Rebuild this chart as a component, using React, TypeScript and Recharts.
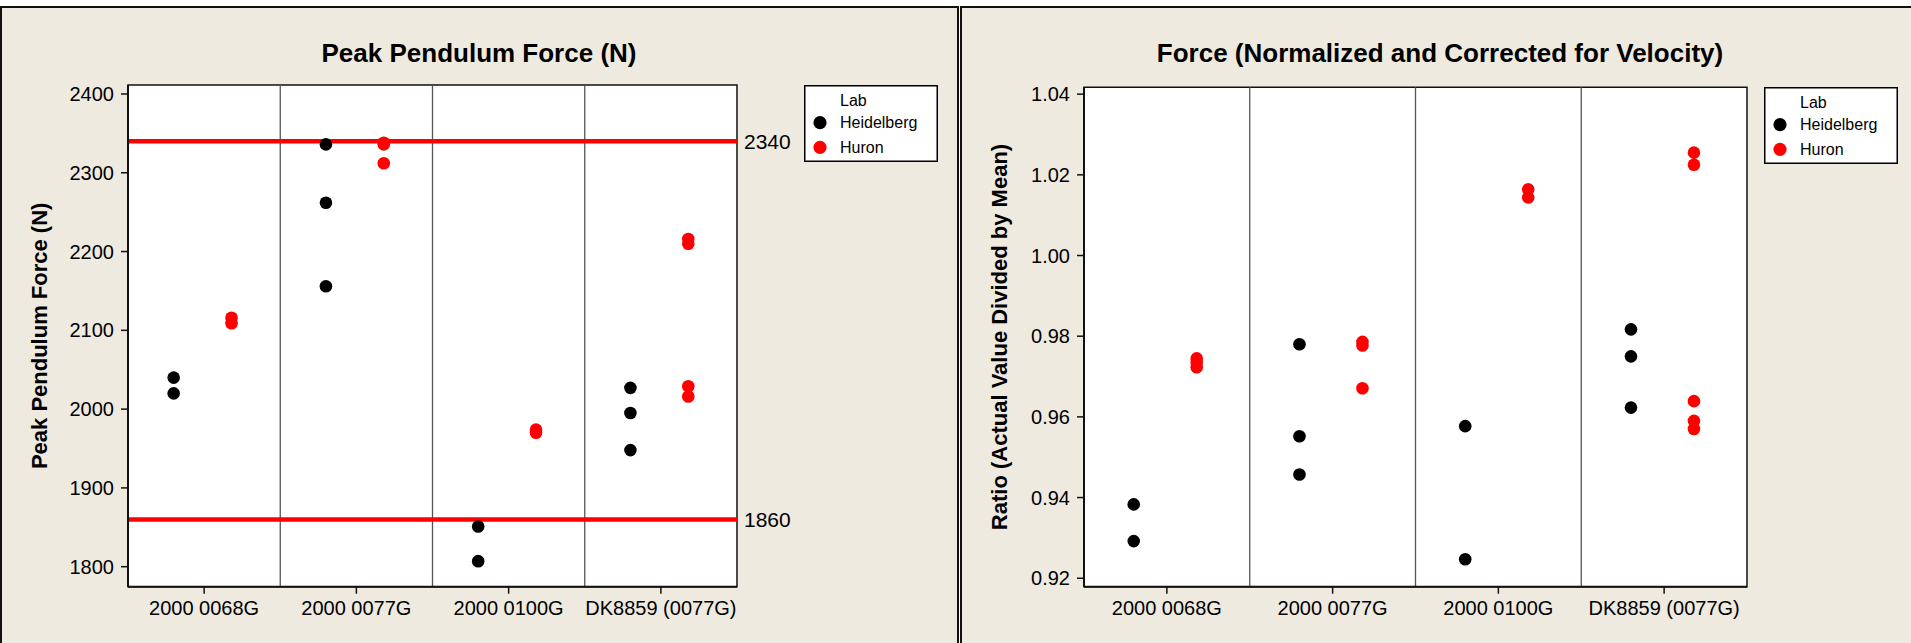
import {
  ReferenceArea,
  ReferenceLine,
  Scatter,
  ScatterChart,
  XAxis,
  YAxis,
} from "recharts";

const FONT = '"Liberation Sans", Arial, sans-serif';
const PANEL_BG = "#eeeae0";
const INK = "#111";

const categories = ["2000 0068G", "2000 0077G", "2000 0100G", "DK8859 (0077G)"];
const categoryTicks = [0, 1, 2, 3];
const dividers = [0.5, 1.5, 2.5];

// peak pendulum force, one list of readings per part
const forceTicks = [1800, 1900, 2000, 2100, 2200, 2300, 2400];
const forceLimits = [1860, 2340];
const forceHeidelberg = [
  [2040, 2020],
  [2336, 2262, 2156],
  [1851, 1807],
  [2027, 1995, 1948],
];
const forceHuron = [
  [2116, 2109],
  [2338, 2336, 2312],
  [1974, 1970],
  [2216, 2210, 2029, 2016],
];

// ratio of actual value to mean, velocity corrected
const ratioTicks = [0.92, 0.94, 0.96, 0.98, 1.0, 1.02, 1.04];
const ratioHeidelberg = [
  [0.9383, 0.9292],
  [0.978, 0.9552, 0.9457],
  [0.9577, 0.9247],
  [0.9817, 0.975, 0.9623],
];
const ratioHuron = [
  [0.9745, 0.9735, 0.9723],
  [0.9786, 0.9777, 0.9671],
  [1.0164, 1.0144],
  [1.0255, 1.0225, 0.9639, 0.959, 0.957],
];

const labs = [
  { name: "Heidelberg", color: "#000000", shift: -0.2 },
  { name: "Huron", color: "#ff0000", shift: 0.18 },
];

function dots(values: number[][], shift: number) {
  return values.flatMap((vals, i) => vals.map((v) => ({ x: i + shift, y: v })));
}

const dotShape = (color: string) => (p: any) =>
  <circle cx={p.cx} cy={p.cy} r={6.3} fill={color} />;

function LabLegend({ left, top }: { left: number; top: number }) {
  return (
    <svg
      width={134}
      height={77}
      style={{ position: "absolute", left, top, fontFamily: FONT }}
    >
      <rect x={0.75} y={0.75} width={132.5} height={75.5} fill="#fff" stroke="#000" strokeWidth={1.5} />
      <text x={36} y={20.7} fontSize={16} fill="#000">Lab</text>
      {labs.map((lab, i) => (
        <g key={lab.name}>
          <circle cx={16} cy={37.7 + i * 24.6} r={6.6} fill={lab.color} />
          <text x={36} y={43.4 + i * 24.6} fontSize={16} fill="#000">{lab.name}</text>
        </g>
      ))}
    </svg>
  );
}

type PanelProps = {
  left: number;
  width: number;
  frameLeft: number;
  frameWidth: number;
  title: string;
  titleCenter: number;
  yLabel: string;
  heidelberg: number[][];
  huron: number[][];
  ticks: number[];
  domain: [number, number];
  format: (v: number) => string;
  limits?: number[];
  margin: { top: number; right: number; bottom: number; left: number };
  yAxisWidth: number;
  labelOffset: number;
  legendLeft: number;
  legendTop: number;
};

function Panel(props: PanelProps) {
  const series = [props.heidelberg, props.huron];
  return (
    <>
      <div
        style={{
          position: "absolute",
          left: props.frameLeft,
          top: 6,
          width: props.frameWidth - 4,
          height: 700,
          background: PANEL_BG,
          border: `2px solid ${INK}`,
        }}
      />
      <div
        style={{
          position: "absolute",
          left: props.titleCenter - 400,
          top: 39.7,
          width: 800,
          textAlign: "center",
          fontFamily: FONT,
          fontWeight: 700,
          fontSize: 26,
          lineHeight: "26px",
          color: "#000",
        }}
      >
        {props.title}
      </div>
      <div style={{ position: "absolute", left: props.left, top: 0 }}>
        <ScatterChart width={props.width} height={643} margin={props.margin}>
          <XAxis
            type="number"
            dataKey="x"
            domain={[-0.5, 3.5]}
            ticks={categoryTicks}
            interval={0}
            allowDataOverflow
            tickFormatter={(v: number) => categories[v]}
            height={40}
            tickSize={7}
            tickMargin={7}
            axisLine={{ stroke: INK, strokeWidth: 2 }}
            tickLine={{ stroke: INK, strokeWidth: 1.5 }}
            tick={{ fill: "#000", fontSize: 20, fontFamily: FONT }}
          />
          <YAxis
            type="number"
            dataKey="y"
            domain={props.domain}
            ticks={props.ticks}
            interval={0}
            allowDataOverflow
            tickFormatter={props.format}
            width={props.yAxisWidth}
            tickSize={7}
            tickMargin={7}
            axisLine={{ stroke: INK, strokeWidth: 2 }}
            tickLine={{ stroke: INK, strokeWidth: 1.5 }}
            tick={{ fill: "#000", fontSize: 20, fontFamily: FONT }}
            label={{
              value: props.yLabel,
              angle: -90,
              position: "insideLeft",
              offset: props.labelOffset,
              fill: "#000",
              fontSize: 22,
              fontWeight: 700,
              fontFamily: FONT,
              style: { textAnchor: "middle" },
            }}
          />
          <ReferenceArea
            x1={-0.5}
            x2={3.5}
            y1={props.domain[0]}
            y2={props.domain[1]}
            fill="#fff"
            fillOpacity={1}
            stroke={INK}
            strokeWidth={1.5}
          />
          {dividers.map((d) => (
            <ReferenceLine key={d} x={d} stroke="#555" strokeWidth={1.3} />
          ))}
          {(props.limits ?? []).map((lim) => (
            <ReferenceLine
              key={lim}
              y={lim}
              stroke="#ff0000"
              strokeWidth={4.5}
              label={{
                value: String(lim),
                position: "right",
                offset: 7,
                fill: "#000",
                fontSize: 21,
                fontFamily: FONT,
              }}
            />
          ))}
          {labs.map((lab, i) => (
            <Scatter
              key={lab.name}
              name={lab.name}
              data={dots(series[i], lab.shift)}
              fill={lab.color}
              shape={dotShape(lab.color)}
              isAnimationActive={false}
            />
          ))}
        </ScatterChart>
      </div>
      <LabLegend left={props.legendLeft} top={props.legendTop} />
    </>
  );
}

export default function App() {
  return (
    <div
      style={{
        position: "absolute",
        left: 0,
        top: 0,
        width: 1911,
        height: 643,
        overflow: "hidden",
        background: "#fff",
      }}
    >
      <Panel
        left={0}
        width={961}
        frameLeft={0}
        frameWidth={959}
        title="Peak Pendulum Force (N)"
        titleCenter={479}
        yLabel="Peak Pendulum Force (N)"
        heidelberg={forceHeidelberg}
        huron={forceHuron}
        ticks={forceTicks}
        domain={[1774.6, 2411.4]}
        format={(v) => String(v)}
        limits={forceLimits}
        margin={{ top: 85, right: 224, bottom: 16.3, left: 20 }}
        yAxisWidth={108}
        labelOffset={19.2}
        legendLeft={804}
        legendTop={85}
      />
      <Panel
        left={961}
        width={954}
        frameLeft={960}
        frameWidth={956}
        title="Force (Normalized and Corrected for Velocity)"
        titleCenter={1440}
        yLabel="Ratio (Actual Value Divided by Mean)"
        heidelberg={ratioHeidelberg}
        huron={ratioHuron}
        ticks={ratioTicks}
        domain={[0.9179, 1.0417]}
        format={(v) => v.toFixed(2)}
        margin={{ top: 87.3, right: 168, bottom: 16.3, left: 20 }}
        yAxisWidth={103}
        labelOffset={18.4}
        legendLeft={1764}
        legendTop={86.7}
      />
    </div>
  );
}
